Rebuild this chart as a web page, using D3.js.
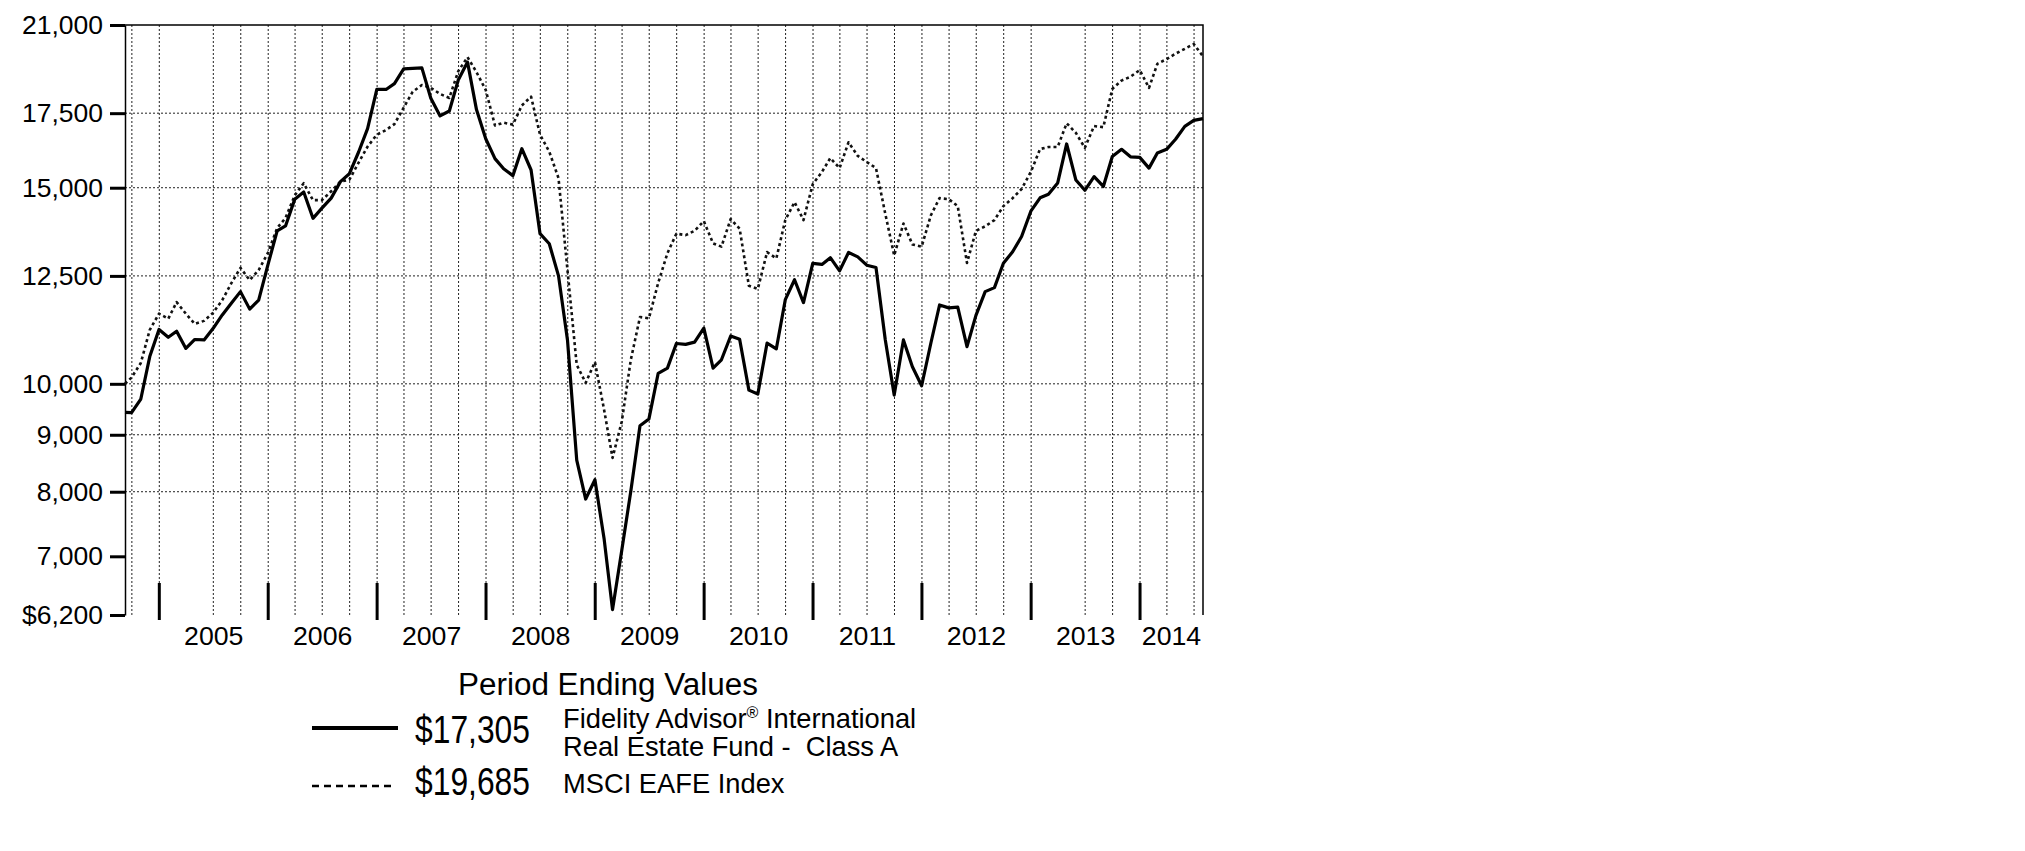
<!DOCTYPE html>
<html>
<head>
<meta charset="utf-8">
<script src="https://cdn.jsdelivr.net/npm/d3@7/dist/d3.min.js"></script>
<style>
  body { margin: 0; background: #fff; }
  text { font-family: "Liberation Sans", Arial, sans-serif; fill: #000; }
</style>
</head>
<body>
<div id="chart"></div>
<script>
// period covered: fund start (Sep 8, 2004) then month ends through Jul 31, 2014
var startDate = new Date(2004, 8, 8);
var endDate = new Date(2014, 6, 31);

// hypothetical $10,000 investment (Class A starts after sales charge)
var fundValues = [
  9425, 9420, 9690, 10580, 11190,
  11010, 11150, 10760, 10960, 10950, 11210, 11530, 11820, 12100, 11670, 11890, 12790,
  13720, 13860, 14650, 14870, 14080, 14380, 14680, 15190, 15440, 16150, 16950, 18380,
  18380, 18600, 19180, 19200, 19220, 18050, 17400, 17580, 18740, 19450, 17630, 16600,
  15930, 15600, 15380, 16260, 15560, 13640, 13360, 12500, 10950, 8540, 7880, 8200,
  7250, 6270, 7090, 8000, 9170, 9300, 10220, 10330, 10870, 10850, 10900, 11220,
  10330, 10510, 11040, 10965, 9870, 9790, 10880, 10750, 11900, 12400, 11830, 12830,
  12800, 12980, 12630, 13120, 13000, 12780, 12720, 10960, 9770, 10950, 10360, 9960,
  10880, 11770, 11700, 11720, 10800, 11520, 12100, 12200, 12830, 13140, 13560, 14290,
  14690, 14800, 15150, 16420, 15240, 14920, 15350, 15040, 16000, 16240, 15990, 15970,
  15620, 16120, 16240, 16580, 17030, 17240, 17305
];

var indexValues = [
  10000, 10130, 10440, 11180, 11560,
  11440, 11840, 11560, 11320, 11390, 11580, 11890, 12320, 12710, 12390, 12650, 13110,
  13800, 14090, 14770, 15140, 14620, 14620, 14890, 15190, 15250, 15800, 16330, 16740,
  16900, 17110, 17700, 18290, 18550, 18440, 18210, 18060, 19090, 19650, 19050, 18360,
  17060, 17160, 17090, 17780, 18110, 16740, 16160, 15300, 12650, 10400, 10020, 10460,
  9470, 8580, 9250, 10500, 11480, 11450, 12320, 13100, 13640, 13600, 13720, 14000,
  13370, 13280, 14060, 13780, 12250, 12170, 13130, 12960, 14030, 14560, 14030, 15110,
  15500, 15950, 15620, 16480, 16020, 15820, 15620, 14220, 13040, 13930, 13340, 13280,
  14170, 14680, 14650, 14440, 12840, 13720, 13850, 14030, 14440, 14680, 14960, 15500,
  16250, 16320, 16320, 17140, 16800, 16290, 17040, 17000, 18400, 18720, 18870, 19130,
  18440, 19380, 19570, 19790, 19990, 20190, 19685
];

var yTicks = [6200, 7000, 8000, 9000, 10000, 12500, 15000, 17500, 21000];
var yGrid = [8000, 9000, 10000, 12500, 15000, 17500];
var years = [2005, 2006, 2007, 2008, 2009, 2010, 2011, 2012, 2013, 2014];
// quarter gridlines that are absent in the original
var skippedGrid = ["2005-04", "2013-04"];

var legendTitle = "Period Ending Values";
var fundEnd = "$17,305";
var indexEnd = "$19,685";
var fundLabel = ["Fidelity Advisor", "\u00AE", " International", "Real Estate Fund -  Class A"];
var indexLabel = "MSCI EAFE Index";

var width = 2025, height = 851;
var plot = { left: 125, right: 1203, top: 25, bottom: 615 };

var svg = d3.select("#chart")
    .append("svg")
    .attr("width", width)
    .attr("height", height);

svg.append("rect")
    .attr("width", width)
    .attr("height", height)
    .attr("fill", "#fff");

var dates = [startDate].concat(
    d3.timeMonth.range(new Date(2004, 9, 1), new Date(2014, 7, 2))
        .map(function (d) { return d3.timeDay.offset(d, -1); })
);

var x = d3.scaleTime()
    .domain([startDate, endDate])
    .range([plot.left, plot.right]);

var y = d3.scaleLog()
    .domain([6200, 21000])
    .range([plot.bottom, plot.top]);

// dotted grid
var fmtMonth = d3.timeFormat("%Y-%m");
var quarters = d3.timeMonth.every(3).range(new Date(2004, 9, 1), endDate)
    .filter(function (d) { return skippedGrid.indexOf(fmtMonth(d)) < 0; });

svg.append("g")
    .selectAll("line")
    .data(quarters)
    .enter()
    .append("line")
    .attr("x1", function (d) { return x(d); })
    .attr("x2", function (d) { return x(d); })
    .attr("y1", plot.top)
    .attr("y2", plot.bottom)
    .attr("stroke", "#222")
    .attr("stroke-width", 1)
    .attr("stroke-dasharray", "2,2");

svg.append("g")
    .selectAll("line")
    .data(yGrid)
    .enter()
    .append("line")
    .attr("x1", plot.left)
    .attr("x2", plot.right)
    .attr("y1", function (d) { return y(d); })
    .attr("y2", function (d) { return y(d); })
    .attr("stroke", "#222")
    .attr("stroke-width", 1)
    .attr("stroke-dasharray", "2,2");

// frame: top and right border
svg.append("path")
    .attr("d", "M" + plot.left + "," + plot.top + "H" + plot.right + "V" + plot.bottom)
    .attr("fill", "none")
    .attr("stroke", "#000")
    .attr("stroke-width", 1.5);

// y axis
var yAxis = d3.axisLeft(y)
    .tickValues(yTicks)
    .tickSize(15)
    .tickSizeOuter(0)
    .tickPadding(7)
    .tickFormat(function (d) { return (d === 6200 ? "$" : "") + d3.format(",")(d); });

var gy = svg.append("g")
    .attr("transform", "translate(" + plot.left + ",0)")
    .call(yAxis);

gy.select(".domain").attr("stroke-width", 1.5);
gy.selectAll(".tick line").attr("stroke-width", 3);
gy.selectAll(".tick text")
    .attr("font-size", 26.5)
    .attr("font-family", "\"Liberation Sans\", Arial, sans-serif");

// year marks along the bottom
svg.append("g")
    .selectAll("line")
    .data(years)
    .enter()
    .append("line")
    .attr("x1", function (d) { return x(new Date(d, 0, 1)); })
    .attr("x2", function (d) { return x(new Date(d, 0, 1)); })
    .attr("y1", 583)
    .attr("y2", 620)
    .attr("stroke", "#000")
    .attr("stroke-width", 3);

svg.append("g")
    .selectAll("text")
    .data(years)
    .enter()
    .append("text")
    .attr("x", function (d) {
        var a = Math.max(+startDate, +new Date(d, 0, 1));
        var b = Math.min(+endDate, +new Date(d + 1, 0, 1));
        return (x(a) + x(b)) / 2;
    })
    .attr("y", 645)
    .attr("text-anchor", "middle")
    .attr("font-size", 26.7)
    .text(function (d) { return d; });

// lines
var line = d3.line()
    .x(function (d, i) { return x(dates[i]); })
    .y(function (d) { return y(d); });

svg.append("path")
    .datum(indexValues)
    .attr("fill", "none")
    .attr("stroke", "#111")
    .attr("stroke-width", 2.6)
    .attr("stroke-dasharray", "3,3")
    .attr("stroke-linejoin", "round")
    .attr("d", line);

svg.append("path")
    .datum(fundValues)
    .attr("fill", "none")
    .attr("stroke", "#000")
    .attr("stroke-width", 3.2)
    .attr("stroke-linejoin", "round")
    .attr("d", line);

// legend
var legend = svg.append("g");

legend.append("text")
    .attr("x", 608)
    .attr("y", 695)
    .attr("text-anchor", "middle")
    .attr("font-size", 31)
    .attr("textLength", 300)
    .attr("lengthAdjust", "spacingAndGlyphs")
    .text(legendTitle);

legend.append("line")
    .attr("x1", 312).attr("x2", 398)
    .attr("y1", 728).attr("y2", 728)
    .attr("stroke", "#000")
    .attr("stroke-width", 4);

legend.append("line")
    .attr("x1", 312).attr("x2", 392)
    .attr("y1", 786).attr("y2", 786)
    .attr("stroke", "#000")
    .attr("stroke-width", 2.5)
    .attr("stroke-dasharray", "7,5");

legend.selectAll(".endval")
    .data([[fundEnd, 743], [indexEnd, 795]])
    .enter()
    .append("text")
    .attr("class", "endval")
    .attr("x", 415)
    .attr("y", function (d) { return d[1]; })
    .attr("font-size", 38)
    .attr("font-family", "\"Liberation Sans Narrow\", \"Arial Narrow\", \"Liberation Sans\", Arial, sans-serif")
    .attr("textLength", 115)
    .attr("lengthAdjust", "spacingAndGlyphs")
    .text(function (d) { return d[0]; });

var t1 = legend.append("text")
    .attr("x", 563)
    .attr("y", 728)
    .attr("font-size", 27.3);
t1.append("tspan").text(fundLabel[0]);
t1.append("tspan")
    .attr("font-size", 16)
    .attr("dy", -10)
    .text(fundLabel[1]);
t1.append("tspan")
    .attr("dy", 10)
    .text(fundLabel[2]);

legend.append("text")
    .attr("x", 563)
    .attr("y", 756)
    .attr("font-size", 27.3)
    .style("white-space", "pre")
    .text(fundLabel[3]);

legend.append("text")
    .attr("x", 563)
    .attr("y", 793)
    .attr("font-size", 27.3)
    .text(indexLabel);
</script>
</body>
</html>
